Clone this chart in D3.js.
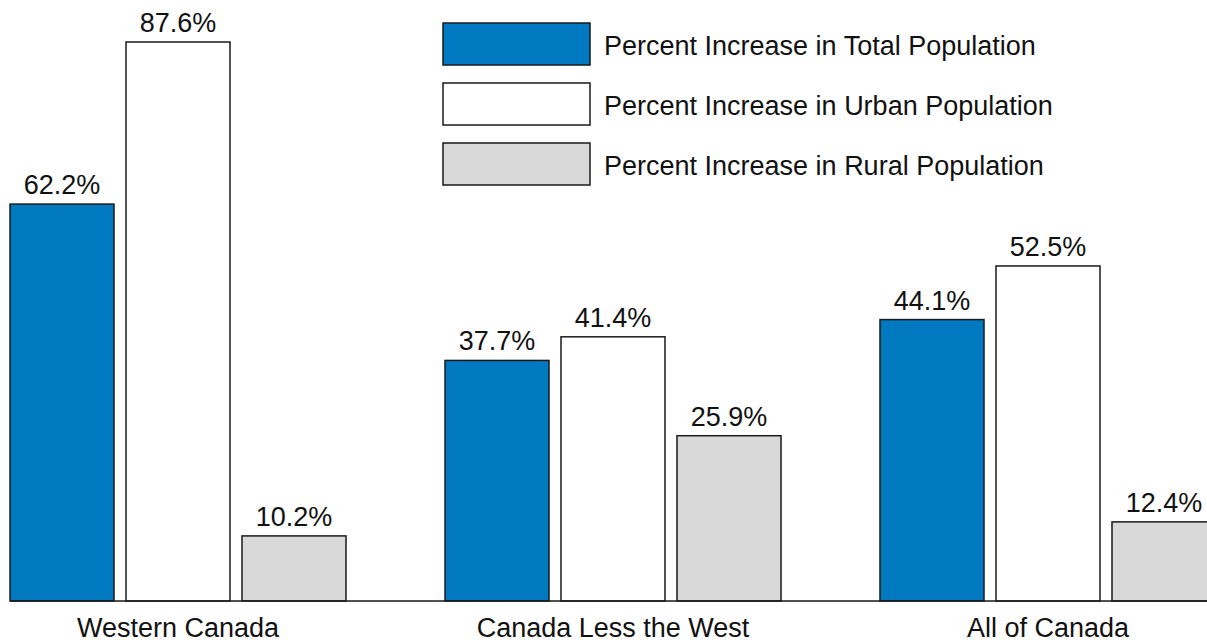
<!DOCTYPE html>
<html>
<head>
<meta charset="utf-8">
<script src="https://cdn.jsdelivr.net/npm/d3@7"></script>
<style>
  html, body { margin: 0; padding: 0; background: #fff; overflow: hidden; }
  svg { display: block; font-family: "Liberation Sans", Arial, sans-serif; }
</style>
</head>
<body>
<div id="chart"></div>
<script>
const categories = ['Western Canada', 'Canada Less the West', 'All of Canada'];
const seriesNames = [
  'Percent Increase in Total Population',
  'Percent Increase in Urban Population',
  'Percent Increase in Rural Population',
];
const totalValues = [62.2, 37.7, 44.1];
const urbanValues = [87.6, 41.4, 52.5];
const ruralValues = [10.2, 25.9, 12.4];

const colors = ['#0079c1', '#ffffff', '#d9d9d9'];

const width = 1207;
const height = 643;
const baseline = 601;

const svg = d3
  .select('#chart')
  .append('svg')
  .attr('width', width)
  .attr('height', height);

const series = [totalValues, urbanValues, ruralValues];
const data = categories.map((c, i) => ({
  category: c,
  values: series.map((s, j) => ({ key: j, value: s[i] })),
}));

// groups are 336px wide, 435px apart; the last one runs past the right edge
const x0 = d3
  .scaleBand()
  .domain(categories)
  .range([10, 1216])
  .paddingInner(99 / 435)
  .paddingOuter(0);

const x1 = d3
  .scaleBand()
  .domain([0, 1, 2])
  .range([0, x0.bandwidth()])
  .paddingInner(12 / 116);

const y = d3
  .scaleLinear()
  .domain([0, d3.max(urbanValues)])
  .range([baseline, 42]);

const groups = svg
  .selectAll('.group')
  .data(data)
  .enter()
  .append('g')
  .attr('class', 'group')
  .attr('transform', (d) => `translate(${x0(d.category)},0)`);

groups
  .selectAll('rect')
  .data((d) => d.values)
  .enter()
  .append('rect')
  .attr('x', (d) => x1(d.key))
  .attr('y', (d) => y(d.value))
  .attr('width', x1.bandwidth())
  .attr('height', (d) => baseline - y(d.value))
  .attr('fill', (d) => colors[d.key])
  .attr('stroke', '#1a1a1a')
  .attr('stroke-width', 1.5);

groups
  .selectAll('.val')
  .data((d) => d.values)
  .enter()
  .append('text')
  .attr('class', 'val')
  .attr('x', (d) => x1(d.key) + x1.bandwidth() / 2)
  .attr('y', (d) => y(d.value) - 10)
  .attr('text-anchor', 'middle')
  .attr('fill', '#111')
  .style('font-size', '27px')
  .text((d) => `${d.value.toFixed(1)}%`);

groups
  .append('text')
  .attr('x', x0.bandwidth() / 2)
  .attr('y', 637)
  .attr('text-anchor', 'middle')
  .attr('fill', '#111')
  .style('font-size', '27px')
  .text((d) => d.category);

svg
  .append('line')
  .attr('x1', 10)
  .attr('x2', width)
  .attr('y1', baseline)
  .attr('y2', baseline)
  .attr('stroke', '#1a1a1a')
  .attr('stroke-width', 1.5);

// legend
const legend = svg
  .selectAll('.legend')
  .data(seriesNames)
  .enter()
  .append('g')
  .attr('class', 'legend')
  .attr('transform', (d, i) => `translate(443,${23 + i * 60})`);

legend
  .append('rect')
  .attr('width', 147)
  .attr('height', 42)
  .attr('fill', (d, i) => colors[i])
  .attr('stroke', '#1a1a1a')
  .attr('stroke-width', 1.5);

legend
  .append('text')
  .attr('x', 161)
  .attr('y', 32)
  .attr('fill', '#111')
  .style('font-size', '27px')
  .text((d) => d);
</script>
</body>
</html>
